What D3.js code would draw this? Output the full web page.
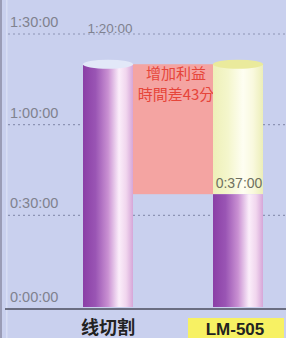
<!DOCTYPE html>
<html>
<head>
<meta charset="utf-8">
<script src="https://cdn.jsdelivr.net/npm/d3@7"></script>
<style>
  body { margin: 0; background: #c9d0ee; }
  svg { display: block; }
</style>
</head>
<body>
<div id="chart"></div>
<script>
// data: machining time in minutes
var categories = ["线切割", "LM-505"];
var times = [80, 37];
var timeLabels = ["1:20:00", "0:37:00"];
var tickValues = [0, 30, 60, 90];
var gainTitle = "增加利益";

var width = 286, height = 338;

var svg = d3.select("#chart").append("svg")
    .attr("width", width)
    .attr("height", height);

var y = d3.scaleLinear().domain([0, 90]).range([306, 34]);
var x = d3.scalePoint().domain(categories).range([108, 238]);
var barW = 50;

// gradients
var defs = svg.append("defs");
function grad(id, stops) {
    var g = defs.append("linearGradient").attr("id", id)
        .attr("x1", "0%").attr("x2", "100%").attr("y1", "0%").attr("y2", "0%");
    stops.forEach(function (s) {
        g.append("stop").attr("offset", s[0]).attr("stop-color", s[1]);
    });
}
grad("purple", [["0%", "#8a3fa6"], ["25%", "#9a55b4"], ["50%", "#c990d2"], ["72%", "#fbeefa"], ["86%", "#f1d6ee"], ["100%", "#d6a6d8"]]);
grad("yellow", [["0%", "#eef0b8"], ["30%", "#f4f6cc"], ["60%", "#fefef2"], ["80%", "#f9f9de"], ["100%", "#eceeb8"]]);

// background + left edge
svg.append("rect").attr("width", width).attr("height", height).attr("fill", "#c9d0ee");
svg.append("rect").attr("x", 0).attr("y", 0).attr("width", 2).attr("height", height).attr("fill", "#9a9cb6");
svg.append("rect").attr("x", 6).attr("y", 0).attr("width", 1.5).attr("height", height).attr("fill", "#d8ddf4");

// grid lines + tick labels
function fmt(m) {
    return Math.floor(m / 60) + ":" + d3.format("02d")(m % 60) + ":00";
}
tickValues.forEach(function (t) {
    if (t > 0) {
        svg.append("line")
            .attr("x1", 8).attr("x2", width)
            .attr("y1", y(t)).attr("y2", y(t))
            .attr("stroke", "#8d93b4").attr("stroke-width", 1.2)
            .attr("stroke-dasharray", "2,3");
    }
    svg.append("text")
        .attr("x", 10).attr("y", t > 0 ? y(t) - 7 : y(t) - 4)
        .attr("font-family", "Liberation Sans, Arial, sans-serif")
        .attr("font-size", 14.5)
        .attr("fill", "#80828f")
        .text(fmt(t));
});

// gain area between bars
var x0 = x(categories[0]) + barW / 2, x1 = x(categories[1]) - barW / 2;
svg.append("rect")
    .attr("x", x0).attr("y", y(times[0]))
    .attr("width", x1 - x0).attr("height", y(times[1]) - y(times[0]))
    .attr("fill", "#f4a4a2");
var gx = (x0 + x1) / 2 + 3;
svg.append("text").attr("x", gx).attr("y", y(times[0]) + 15)
    .attr("text-anchor", "middle").attr("font-family", "Noto Sans CJK SC")
    .attr("font-size", 15).attr("fill", "#e6453a").text(gainTitle);
svg.append("text").attr("x", gx).attr("y", y(times[0]) + 36)
    .attr("text-anchor", "middle").attr("font-family", "Noto Sans CJK TC")
    .attr("font-size", 15).attr("fill", "#e6453a")
    .text("時間差" + (times[0] - times[1]) + "分");

// cylinders
var base = y(0) + 1;
function cylinder(cx, top, bottom, fill, capColor) {
    svg.append("rect")
        .attr("x", cx - barW / 2).attr("y", top)
        .attr("width", barW).attr("height", bottom - top)
        .attr("fill", fill);
    if (capColor) {
        svg.append("ellipse")
            .attr("cx", cx).attr("cy", top)
            .attr("rx", barW / 2).attr("ry", 4.5)
            .attr("fill", capColor);
    }
}
// 线切割
cylinder(x(categories[0]), y(times[0]), base, "url(#purple)", "#e2e8f8");
// LM-505 : yellow = saved time, purple = actual
cylinder(x(categories[1]), y(times[0]), y(times[1]), "url(#yellow)", "#eaea9c");
cylinder(x(categories[1]), y(times[1]), base, "url(#purple)", null);

// value labels
svg.append("text").attr("x", x(categories[0]) + 2).attr("y", y(times[0]) - 31)
    .attr("text-anchor", "middle").attr("font-family", "Liberation Sans, Arial, sans-serif")
    .attr("font-size", 13.5).attr("fill", "#80828f").text(timeLabels[0]);
svg.append("text").attr("x", x(categories[1]) + 1).attr("y", y(times[1]) - 6)
    .attr("text-anchor", "middle").attr("font-family", "Liberation Sans, Arial, sans-serif")
    .attr("font-size", 14).attr("fill", "#6f7060").text(timeLabels[1]);

// floor line
svg.append("line").attr("x1", 5).attr("x2", width)
    .attr("y1", y(0) + 3).attr("y2", y(0) + 3)
    .attr("stroke", "#4a4c5c").attr("stroke-width", 1.6);

// category labels
svg.append("text").attr("x", x(categories[0])).attr("y", 334)
    .attr("text-anchor", "middle").attr("font-family", "Noto Sans CJK SC")
    .attr("font-weight", "bold").attr("font-size", 18).attr("fill", "#222")
    .text(categories[0]);
svg.append("rect").attr("x", 188).attr("y", 318).attr("width", 96).attr("height", 20)
    .attr("fill", "#f7f163");
svg.append("text").attr("x", 235).attr("y", 334.5)
    .attr("text-anchor", "middle").attr("font-family", "Liberation Sans, Arial, sans-serif")
    .attr("font-weight", "bold").attr("font-size", 17).attr("fill", "#222")
    .text(categories[1]);
</script>
</body>
</html>
